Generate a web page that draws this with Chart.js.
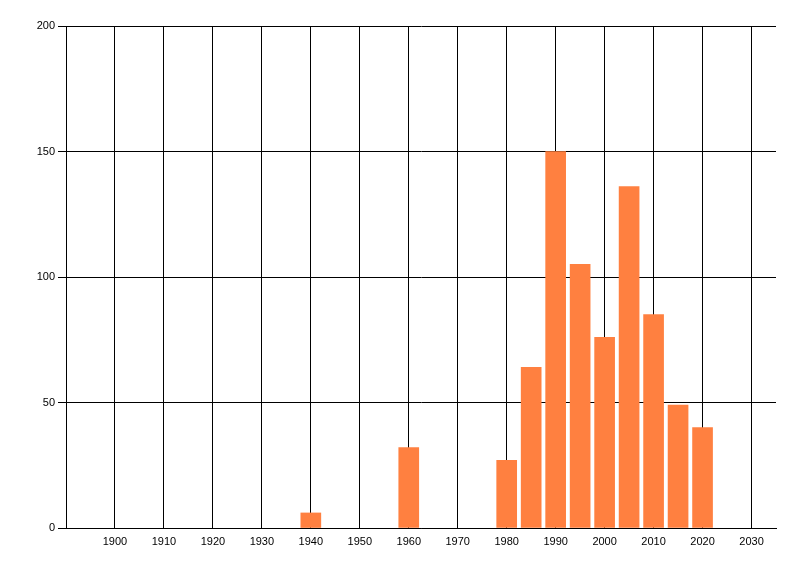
<!DOCTYPE html>
<html>
<head>
<meta charset="utf-8">
<script src="https://cdn.jsdelivr.net/npm/chart.js@4/dist/chart.umd.min.js"></script>
<style>
  html, body { margin: 0; padding: 0; background: #fff; }
  #chart { display: block; }
</style>
</head>
<body>
<canvas id="chart" width="800" height="576"></canvas>
<script>
// Данные
const years = [1940, 1960, 1980, 1985, 1990, 1995, 2000, 2005, 2010, 2015, 2020];
const counts = [6, 32, 27, 64, 150, 105, 76, 136, 85, 49, 40];
const xTicks = [1900, 1910, 1920, 1930, 1940, 1950, 1960, 1970, 1980, 1990, 2000, 2010, 2020, 2030];
const yTicks = [0, 50, 100, 150, 200];

const font = { family: 'Liberation Sans, Arial, sans-serif', size: 11 };

const ctx = document.getElementById('chart').getContext('2d');
new Chart(ctx, {
  type: 'bar',
  data: {
    datasets: [{
      data: years.map((y, i) => ({ x: y, y: counts[i] })),
      backgroundColor: 'rgb(255, 128, 64)',
      borderWidth: 0,
      barThickness: 20
    }]
  },
  options: {
    responsive: false,
    animation: false,
    devicePixelRatio: 1,
    layout: { padding: { top: 26, right: 24, left: 0, bottom: 0 } },
    plugins: { legend: { display: false }, tooltip: { enabled: false } },
    scales: {
      x: {
        type: 'linear',
        min: 1890,
        max: 2035,
        offset: false,
        afterBuildTicks: scale => {
          scale.ticks = xTicks.map(v => ({ value: v }));
        },
        afterFit: scale => { scale.height = 48; },
        grid: { color: '#000', lineWidth: 1, drawTicks: false, offset: false },
        border: { display: true, color: '#000', width: 1 },
        ticks: {
          color: '#000', font: font, padding: 7, maxRotation: 0, autoSkip: false,
          callback: v => String(v)
        }
      },
      y: {
        min: 0,
        max: 200,
        afterBuildTicks: scale => {
          scale.ticks = yTicks.map(v => ({ value: v }));
        },
        afterFit: scale => { scale.width = 66; },
        grid: { color: '#000', lineWidth: 1, drawTicks: true, tickLength: 8, tickColor: '#000' },
        border: { display: true, color: '#000', width: 1 },
        ticks: { color: '#000', font: font, padding: 3, callback: v => String(v) }
      }
    }
  }
});
</script>
</body>
</html>
